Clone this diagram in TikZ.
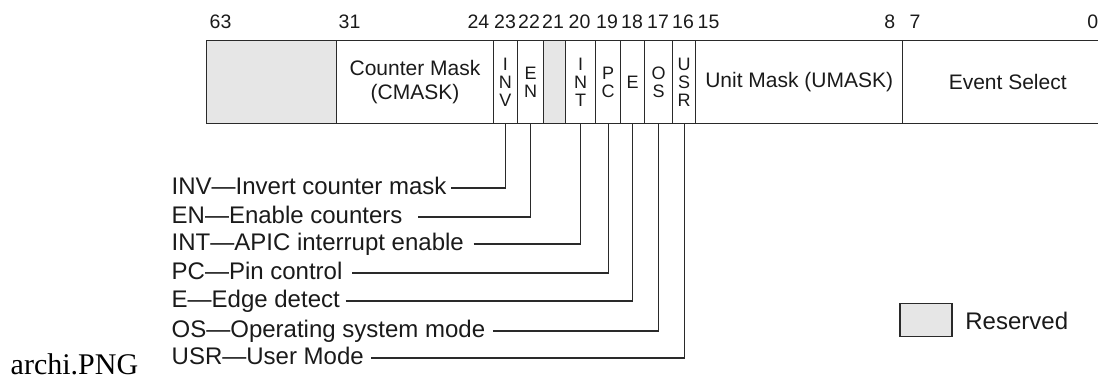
\documentclass[tikz,border=0pt]{standalone}
\usepackage{fontspec}
\setmainfont{Liberation Sans}
\newfontfamily\captionserif{Liberation Serif}
\usetikzlibrary{positioning}

\definecolor{regline}{HTML}{2A2A2A}
\definecolor{regtext}{HTML}{1A1A1A}
\definecolor{rsvdgray}{HTML}{E6E6E6}

\begin{document}
\begin{tikzpicture}[
    x=1pt, y=-1pt,
    line width=1.4pt,
    field/.style={rectangle, draw=regline, text=regtext, inner sep=0pt, anchor=north west, minimum height=83pt, align=center, font=\fontsize{21}{24}\selectfont},
    flag/.style={field, font=\fontsize{18}{18}\selectfont},
    rsvd/.style={field, fill=rsvdgray},
    bitno/.style={text=regtext, inner sep=0pt, anchor=base, font=\fontsize{19.5}{20}\selectfont},
    desc/.style={text=regtext, inner sep=0pt, anchor=west, text height=17pt, text depth=4pt, font=\fontsize{24}{26}\selectfont},
    lead/.style={draw=regline, line width=1.3pt}
]
    \useasboundingbox (0,0) rectangle (1098,380);
    \clip (0,0) rectangle (1098,380);

    % Register fields, bit 63 down to bit 0
    \node[rsvd,  minimum width=130pt]   (hi)    at (206,40)   {};
    \node[field, minimum width=156.5pt] (cmask) at (336,40)   {Counter Mask\\(CMASK)};
    \node[flag,  minimum width=24.5pt]  (inv)   at (492.5,40) {I\\N\\V};
    \node[flag,  minimum width=26pt]    (en)    at (517,40)   {E\\N};
    \node[rsvd,  minimum width=22pt]    (r21)   at (543,40)   {};
    \node[flag,  minimum width=30pt]    (int)   at (565,40)   {I\\N\\T};
    \node[flag,  minimum width=25pt]    (pc)    at (595,40)   {P\\C};
    \node[flag,  minimum width=24pt]    (e)     at (620,40)   {E};
    \node[flag,  minimum width=28pt]    (os)    at (644,40)   {O\\S};
    \node[flag,  minimum width=23pt]    (usr)   at (672,40)   {U\\S\\R};
    \node[field, minimum width=207pt]   (umask) at (695,40)   {Unit Mask (UMASK)};
    \node[field, minimum width=210pt]   (evsel) at (902,40)   {Event Select};

    % Bit numbers
    \node[bitno, anchor=base west] (b63) at (209,28)  {63};
    \node[bitno, anchor=base west] (b31) at (338,28)  {31};
    \node[bitno, anchor=base east] (b24) at (490,28)  {24};
    \foreach \n/\x in {23/505, 22/529, 21/553, 20/579.5, 19/607, 18/632, 17/658, 16/683}
        \node[bitno] (b\n) at (\x,28) {\n};
    \node[bitno, anchor=base west] (b15) at (697,28)  {15};
    \node[bitno, anchor=base east] (b8)  at (896,28)  {8};
    \node[bitno, anchor=base west] (b7)  at (909,28)  {7};
    \node[bitno, anchor=base east] (b0)  at (1099,28) {0};

    % Flag descriptions
    \node[desc] (linv) at (171,188) {INV---Invert counter mask};
    \node[desc] (len)  at (171,217) {EN---Enable counters};
    \node[desc] (lint) at (171,244) {INT---APIC interrupt enable};
    \node[desc] (lpc)  at (171,273) {PC---Pin control};
    \node[desc] (le)   at (171,301) {E---Edge detect};
    \node[desc] (los)  at (171,331) {OS---Operating system mode};
    \node[desc] (lusr) at (171,358) {USR---User Mode};

    % Leader lines up to the flag bits
    \foreach \f/\g in {inv/4, en/15, int/9, pc/9, e/5, os/7, usr/7}
        \draw[lead] ([xshift=\g]l\f.east) -| (\f.south);

    % Key
    \node[rsvd, anchor=center, minimum width=52pt, minimum height=33pt] (key) at (926,320) {};
    \node[desc] (keytext) at ([xshift=12pt, yshift=-3pt]key.east) {Reserved};

    % File name
    \node[anchor=base west, inner sep=0pt, text=black, font=\captionserif\fontsize{30}{32}\selectfont] (fname) at (10,374) {archi.PNG};
\end{tikzpicture}
\end{document}
